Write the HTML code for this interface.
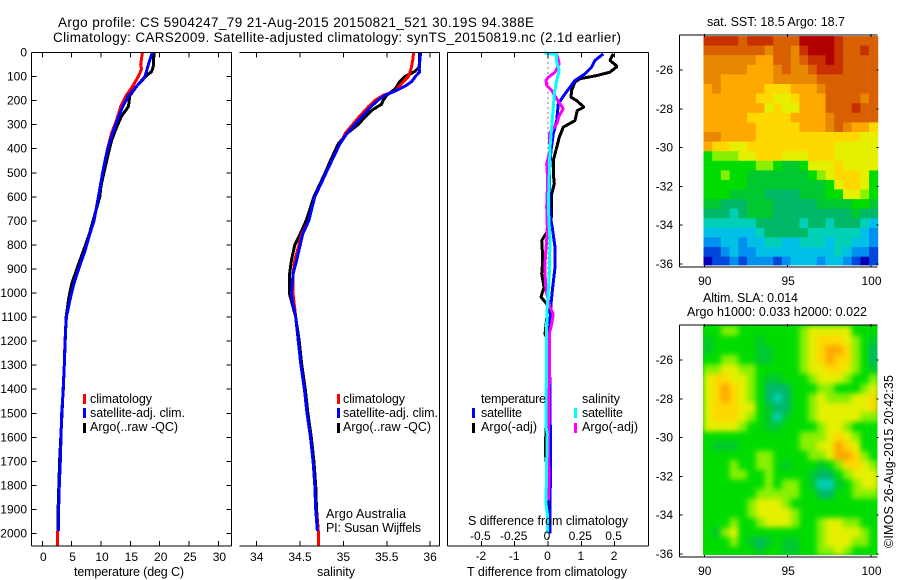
<!DOCTYPE html>
<html>
<head>
<meta charset="utf-8">
<title>Argo profile</title>
<style>
html,body{margin:0;padding:0;background:#fff;}
svg{display:block;}
text{font-family:"Liberation Sans",sans-serif;font-size:12.5px;fill:#000;}
text.tick{font-size:12px;}
text.title{font-size:13.5px;}
</style>
</head>
<body>
<svg id="chart" xmlns="http://www.w3.org/2000/svg" width="900" height="580" viewBox="0 0 900 580">
  <defs>
    <filter id="slaSmooth" x="-5%" y="-5%" width="110%" height="110%" color-interpolation-filters="sRGB">
      <feGaussianBlur stdDeviation="2.6"/>
    </filter>
    <clipPath id="slaClip"><rect x="703" y="325" width="174.5" height="230"/></clipPath>
  </defs>
  <text class="title" x="58" y="27" textLength="476">Argo profile: CS 5904247_79 21-Aug-2015 20150821_521 30.19S 94.388E</text>
  <text class="title" x="53" y="42" textLength="568">Climatology: CARS2009. Satellite-adjusted climatology: synTS_20150819.nc (2.1d earlier)</text>

  <g id="panelT"></g>
  <g id="panelS"></g>
  <g id="panelD"></g>
  <g id="mapSST"></g>
  <g id="mapSLA"></g>

  <text x="129" y="576" text-anchor="middle" textLength="110">temperature (deg C)</text>
  <text x="336" y="576" text-anchor="middle" textLength="38">salinity</text>
  <text x="547" y="576" text-anchor="middle" textLength="160">T difference from climatology</text>
  <text x="548" y="525" text-anchor="middle" textLength="160">S difference from climatology</text>

  <g>
    <rect x="83" y="394" width="3" height="10" fill="#ff0000"/>
    <rect x="83" y="408" width="3" height="10" fill="#0000ff"/>
    <rect x="83" y="423" width="3" height="10" fill="#000000"/>
    <text x="90" y="403" textLength="62">climatology</text>
    <text x="90" y="417" textLength="95">satellite-adj. clim.</text>
    <text x="90" y="431" textLength="88">Argo(..raw -QC)</text>
  </g>
  <g>
    <rect x="337" y="394" width="3" height="10" fill="#ff0000"/>
    <rect x="337" y="408" width="3" height="10" fill="#0000ff"/>
    <rect x="337" y="423" width="3" height="10" fill="#000000"/>
    <text x="343" y="403" textLength="62">climatology</text>
    <text x="343" y="417" textLength="95">satellite-adj. clim.</text>
    <text x="343" y="431" textLength="88">Argo(..raw -QC)</text>
  </g>
  <text x="326" y="518" textLength="80">Argo Australia</text>
  <text x="326" y="532" textLength="95">PI: Susan Wijffels</text>

  <g>
    <text x="481" y="403" textLength="65">temperature</text>
    <text x="582" y="403" textLength="38">salinity</text>
    <rect x="472" y="408" width="3" height="10" fill="#0000ff"/>
    <rect x="472" y="423" width="3" height="10" fill="#000000"/>
    <rect x="574" y="408" width="3" height="10" fill="#00ffff"/>
    <rect x="574" y="423" width="3" height="10" fill="#ff00ff"/>
    <text x="481" y="417" textLength="41">satellite</text>
    <text x="481" y="431" textLength="56">Argo(-adj)</text>
    <text x="582" y="417" textLength="41">satellite</text>
    <text x="582" y="431" textLength="56">Argo(-adj)</text>
  </g>

  <text x="707" y="26" textLength="138">sat. SST: 18.5 Argo: 18.7</text>
  <text x="703" y="302" textLength="95">Altim. SLA: 0.014</text>
  <text x="687" y="316" textLength="180">Argo h1000: 0.033 h2000: 0.022</text>
  <text transform="translate(893,548) rotate(-90)" textLength="173">©IMOS 26-Aug-2015 20:42:35</text>
</svg>

<script>
// ---------- shared depth axis ----------
const depthTicks = [0,100,200,300,400,500,600,700,800,900,1000,1100,1200,1300,1400,1500,1600,1700,1800,1900,2000];

// ---------- temperature profiles (deg C) ----------
const tempTicks = [0,5,10,15,20,25,30];
const climTDepth = [0,50,70,100,140,180,225,280,335,405,500,600,700,755,825,892,960,1015,1100,1200,1300,1400,1500,1600,1700,1800,1900,1988,1990,2050];
const climT = [17.05,16.76,16.9,16.36,15.4,14.26,13.35,12.67,11.8,11.08,10.28,9.55,8.8,8.1,7.27,6.3,5.4,4.83,4.1,3.87,3.75,3.58,3.3,3.18,3.07,2.9,2.78,2.73,2.56,2.56];
const satTDepth = [0,50,100,140,180,225,280,335,405,500,600,700,755,825,892,960,1015,1100,1200,1300,1400,1500,1600,1700,1800,1900,1990];
const satT = [18.75,18.07,17.5,16.08,14.66,13.7,12.8,12,11.08,10.28,9.55,8.8,8.1,7.27,6.3,5.4,4.83,4.1,3.87,3.75,3.58,3.3,3.18,3.07,2.9,2.78,2.73];
const argoTDepth = [0,60,80,95,140,180,225,265,310,365,405,500,555,600,755,825,892,960,1015,1100,1300,1500,1700,1900,1990];
const argoT = [19.03,18.9,18.6,17.8,16.08,14.9,14.66,13.5,12.67,11.8,11.4,10.5,10,9.8,8,7,6,5.05,4.55,4.05,3.75,3.35,2.95,2.7,2.7];

// ---------- salinity profiles (PSU) ----------
const salTicks = [34,34.5,35,35.5,36];
const salTickLabels = ['34','34.5','35','35.5','36'];
const climSDepth = [0,30,70,100,130,160,178,198,225,268,337,380,477,600,700,755,865,920,1005,1100,1200,1300,1400,1500,1600,1700,1800,1900,1990,2050];
const climS = [35.81,35.8,35.78,35.75,35.67,35.6,35.46,35.37,35.29,35.18,35.02,34.96,34.83,34.67,34.6,34.52,34.44,34.42,34.42,34.45,34.48,34.51,34.55,34.58,34.62,34.65,34.67,34.68,34.71,34.71];
const satSDepth = [0,40,60,80,100,120,140,160,178,198,225,268,337,380,477,600,700,755,865,920,1005,1030,1100,1200,1300,1400,1500,1600,1700,1800,1900,1990];
const satS = [35.89,35.88,35.87,35.88,35.83,35.79,35.71,35.6,35.48,35.4,35.32,35.21,35.04,34.96,34.83,34.67,34.6,34.53,34.46,34.42,34.4,34.41,34.45,34.48,34.51,34.55,34.58,34.62,34.65,34.67,34.68,34.7];
const argoSDepth = [0,60,80,100,120,150,178,198,215,240,268,300,337,380,450,500,600,700,755,800,865,920,1005,1100,1200,1300,1400,1500,1600,1700,1800,1900,1990];
const argoS = [35.88,35.88,35.82,35.71,35.65,35.6,35.5,35.46,35.44,35.33,35.25,35.17,35.04,34.94,34.85,34.79,34.66,34.57,34.5,34.44,34.4,34.38,34.38,34.45,34.49,34.52,34.56,34.59,34.63,34.66,34.68,34.69,34.71];

// ---------- difference profiles ----------
const diffTTicks = [-2,-1,0,1,2];
const diffSTicks = [-0.5,-0.25,0,0.25,0.5];
const diffSTickLabels = ['-0.5','-0.25','0','0.25','0.5'];
const satDiffTDepth = [6,33,61,89,116,172,213,283,338,407,504,601,671,740,809,893,976,1045,1170,1724,1862,2001];
const satDiffT = [1.66,1.41,1.31,1.11,.81,.51,.31,.26,.16,.09,.04,.04,.06,.14,.21,.21,.14,.09,.04,.08,.06,.06];
const argoDiffTDepth = [6,33,58,82,96,109,123,158,186,200,227,241,283,310,352,394,449,504,546,588,671,726,782,823,865,920,976,1017,1045,1059,1170,1190,1308,1650,1700,1724,2001];
const argoDiffT = [1.96,1.86,2.08,1.86,1.46,.96,.81,.71,.69,.86,1.08,.88,.81,.46,.34,.26,.16,.16,.19,.11,.11,.06,-.19,-.17,-.16,-.19,-.12,-.21,-.04,0,-.09,-.02,.01,-.08,-.06,.01,.04];
const argoDiffSDepth = [6,47,82,103,116,137,158,193,213,234,262,297,338,407,463,504,574,643,726,782,851,920,990,1059,1086,1128,1170,1364,1696,1752,1862];
const argoDiffS = [.065,.085,.0525,.0025,-.015,-.01,.0275,.065,.09,.115,.085,.065,.01,.015,-.01,-.005,-.005,-.01,-.005,-.01,-.02,-.0225,-.015,.015,.04,.0275,.01,.01,.0025,.01,.0025];
const satDiffSDepth = [2,8,40,75,116,172,227,310,394,504,643,782,920,1059,1128,1556,1585,1696,1876,1917,2001];
const satDiffS = [-.03,.065,.065,.085,.065,.0475,.04,.0275,.015,.01,.0025,.015,.01,-.005,-.01,-.015,-.005,-.01,-.015,-.005,-.005];

// ---------- map axes ----------
const lonTicks = [90,95,100];
const latTicks = [-26,-28,-30,-32,-34,-36];
const lonFirst = 89.95;
const lonStep = 0.523;
const latFirst = -24.25;
const latStep = -0.4945;

// colour class per map cell
const palette = ['#0000b8','#0048dc','#0090f0','#00c0e8','#00d0b8','#00b868','#00c830','#00dc00','#88f000','#e4f000','#ffd800','#ffa800','#e88800','#d86000','#c83000','#b00000'];

const sstGrid = [
[14,14,14,14,13,14,14,14,13,13,13,15,15,15,15,14,13,13,13,13],
[13,13,13,13,13,13,13,12,13,13,12,14,15,15,15,14,13,13,14,13],
[12,12,12,12,12,12,11,11,13,13,12,13,14,14,15,14,13,13,13,13],
[12,12,12,12,12,11,11,11,12,13,12,12,13,14,14,14,13,13,13,13],
[12,12,11,11,11,11,11,11,12,12,12,12,12,13,13,13,13,13,13,13],
[11,12,11,11,11,11,11,10,10,10,11,11,11,12,13,13,13,13,13,13],
[11,11,11,11,11,11,10,10,9,9,10,11,11,11,13,13,13,13,12,13],
[11,11,11,11,11,11,11,9,10,9,9,11,11,11,13,13,13,14,13,13],
[11,11,11,11,11,10,10,10,10,10,11,11,11,11,12,13,13,13,13,13],
[11,11,11,11,11,11,10,10,10,10,10,11,11,11,12,13,12,11,11,10],
[12,12,11,11,11,11,10,10,10,10,10,10,10,10,10,10,10,10,9,9],
[11,10,10,9,9,10,10,10,10,10,10,10,10,10,10,9,9,9,9,9],
[7,8,8,8,9,9,10,10,10,9,9,9,10,10,10,9,9,9,9,9],
[7,7,7,7,7,7,8,8,7,6,6,7,9,9,9,10,9,9,9,9],
[7,7,8,7,7,6,6,6,6,6,6,6,7,8,9,10,10,10,9,7],
[7,7,7,7,7,6,6,6,6,6,6,6,6,6,7,9,10,10,9,7],
[7,7,7,6,6,6,6,5,5,5,5,6,6,6,7,7,9,9,8,7],
[6,6,5,5,5,6,6,6,5,5,5,5,5,6,6,6,6,7,7,6],
[5,5,5,4,5,6,6,6,5,5,5,5,5,5,5,5,5,6,5,5],
[4,4,4,4,4,4,5,5,5,5,5,4,5,5,4,5,5,5,4,3],
[3,3,3,3,3,3,4,5,5,5,5,5,4,4,4,4,4,4,3,2],
[2,2,3,3,2,3,3,4,4,3,3,4,4,4,3,4,4,3,3,2],
[1,1,2,3,2,2,3,3,3,3,3,3,3,3,3,4,3,2,2,1],
[0,1,1,2,1,2,2,2,1,2,3,3,3,2,3,3,2,1,0,1]
];

const slaGrid = [
[7,7,8,8,7,7,7,7,7,7,7,8,9,9,9,9,9,7,7,7],
[6,7,7,7,7,7,6,7,7,7,7,8,9,10,10,10,9,8,7,6],
[6,7,7,7,7,7,6,6,7,7,7,8,9,10,11,11,10,8,7,5],
[7,7,8,8,7,7,6,6,7,7,7,8,9,10,11,10,10,8,7,5],
[8,8,9,9,8,8,7,7,7,7,7,8,9,9,10,10,9,8,7,6],
[9,10,10,9,9,8,7,6,6,7,7,7,8,9,9,9,8,7,7,8],
[9,10,11,10,9,8,7,5,5,5,7,7,7,8,8,7,7,7,8,9],
[9,10,11,10,9,8,7,5,4,5,7,7,8,9,8,8,8,9,9,10],
[9,10,10,10,9,9,7,6,5,5,7,7,8,9,9,9,9,9,9,10],
[9,10,10,10,9,8,7,6,4,6,7,7,8,9,9,9,9,9,8,8],
[9,9,9,9,8,7,7,6,6,7,7,7,7,8,9,9,8,7,7,7],
[7,7,7,7,7,7,7,7,7,7,7,8,8,8,9,10,9,8,7,7],
[7,6,6,6,7,7,7,7,7,7,7,8,8,9,9,11,10,9,7,7],
[7,7,7,7,7,7,8,8,7,7,7,7,8,8,9,11,11,10,8,7],
[7,7,7,8,7,7,8,8,7,6,7,7,7,6,7,8,10,10,9,8],
[7,7,7,8,8,7,7,8,7,7,7,7,6,5,5,7,8,9,9,9],
[7,7,7,7,7,7,7,8,7,8,8,7,6,4,4,6,7,8,9,9],
[7,7,7,7,7,7,8,8,8,8,8,7,7,5,5,7,7,8,8,8],
[7,7,7,7,7,8,9,9,9,8,7,7,7,7,7,7,7,7,7,7],
[7,7,7,7,7,8,9,9,9,9,8,7,7,7,7,7,7,7,7,7],
[7,7,7,8,7,7,8,9,9,9,8,7,7,8,9,9,8,8,7,7],
[7,6,8,9,7,7,7,7,7,7,7,7,7,8,9,9,9,9,8,7],
[7,7,7,8,7,6,5,6,7,6,6,7,7,8,9,9,9,8,8,7],
[7,7,7,7,7,7,6,7,7,6,6,7,7,8,8,9,8,7,7,7]
];

// ---------- axis functions ----------
const SVGNS = 'http://www.w3.org/2000/svg';
const yDepth = d => 52.5 + d * 0.2405;
const xTemp = t => 42.3 + t * 5.87;
const xSal = s => 256.7 + (s - 34) * 86.7;
const xDiffT = v => 548 + v * 33.3;
const xDiffS = v => 548 + v * 133.2;
const xLon = lon => 704.3 + (lon - 90) * 16.67;
const ySST = lat => 70 + (-26 - lat) * 19.4;
const ySLA = lat => 360 + (-26 - lat) * 19.4;

function make(parent, tag, attrs) {
  const el = document.createElementNS(SVGNS, tag);
  for (const k in attrs) el.setAttribute(k, attrs[k]);
  parent.appendChild(el);
  return el;
}
function hairline(parent, x1, y1, x2, y2, name) {
  const el = make(parent, 'line', {x1:x1, y1:y1, x2:x2, y2:y2, stroke:'#000', 'stroke-width':1, 'shape-rendering':'crispEdges'});
  
  
  return el;
}
function label(parent, x, y, str, anchor, name) {
  const el = make(parent, 'text', {x:x, y:y, 'text-anchor':anchor, 'class':'tick'});
  el.textContent = str;
  
  
  return el;
}
function profile(parent, xFn, depths, vals, color, width, name) {
  const pts = depths.map((d, i) => xFn(vals[i]).toFixed(1) + ',' + yDepth(d).toFixed(1)).join(' ');
  const el = make(parent, 'polyline', {points:pts, fill:'none', stroke:color, 'stroke-width':width, 'shape-rendering':'crispEdges', 'stroke-linejoin':'bevel'});
  
  
  return el;
}

const TOP = 52.5, BOT = 546;

// ---------- temperature panel ----------
const pT = document.getElementById('panelT');
profile(pT, xTemp, argoTDepth, argoT, '#000000', 3, 'argo-temperature-line');
profile(pT, xTemp, climTDepth, climT, '#ff0000', 3, 'climatology-temperature-line');
profile(pT, xTemp, satTDepth, satT, '#0000ff', 3, 'satellite-temperature-line');
hairline(pT, 31.5, TOP, 231.5, TOP, 'temperature-top-axis');
hairline(pT, 31.5, BOT, 231.5, BOT, 'temperature-bottom-axis');
hairline(pT, 31.5, TOP, 31.5, BOT, 'temperature-left-axis');
hairline(pT, 231.5, TOP, 231.5, BOT, 'temperature-right-axis');
depthTicks.forEach(d => {
  hairline(pT, 31.5, yDepth(d), 36.5, yDepth(d), 'depth-tick');
  hairline(pT, 226.5, yDepth(d), 231.5, yDepth(d), 'depth-tick');
  label(pT, 27, yDepth(d) + 4, String(d), 'end', 'depth-tick-label');
});
tempTicks.forEach(t => {
  hairline(pT, xTemp(t), TOP, xTemp(t), TOP + 5, 'temperature-tick');
  hairline(pT, xTemp(t), BOT, xTemp(t), BOT - 5, 'temperature-tick');
  label(pT, xTemp(t) + 1, 561, String(t), 'middle', 'temperature-tick-label');
});

// ---------- salinity panel ----------
const pS = document.getElementById('panelS');
profile(pS, xSal, argoSDepth, argoS, '#000000', 3, 'argo-salinity-line');
profile(pS, xSal, climSDepth, climS, '#ff0000', 3, 'climatology-salinity-line');
profile(pS, xSal, satSDepth, satS, '#0000ff', 3, 'satellite-salinity-line');
hairline(pS, 239.5, TOP, 439.5, TOP, 'salinity-top-axis');
hairline(pS, 239.5, BOT, 439.5, BOT, 'salinity-bottom-axis');
hairline(pS, 439.5, TOP, 439.5, BOT, 'salinity-right-axis');
salTicks.forEach((s, i) => {
  hairline(pS, xSal(s), TOP, xSal(s), TOP + 5, 'salinity-tick');
  hairline(pS, xSal(s), BOT, xSal(s), BOT - 5, 'salinity-tick');
  label(pS, xSal(s), 561, salTickLabels[i], 'middle', 'salinity-tick-label');
});

// ---------- difference panel ----------
const pD = document.getElementById('panelD');
const zero = make(pD, 'line', {x1:xDiffT(0), y1:TOP, x2:xDiffT(0), y2:BOT, stroke:'#000', 'stroke-width':1, 'stroke-dasharray':'1 4'});


profile(pD, xDiffT, argoDiffTDepth, argoDiffT, '#000000', 3, 'argo-temperature-difference-line');
profile(pD, xDiffT, satDiffTDepth, satDiffT, '#0000ff', 3, 'satellite-temperature-difference-line');
profile(pD, xDiffS, argoDiffSDepth, argoDiffS, '#ff00ff', 3, 'argo-salinity-difference-line');
profile(pD, xDiffS, satDiffSDepth, satDiffS, '#00ffff', 3, 'satellite-salinity-difference-line');
hairline(pD, 447.5, TOP, 648.5, TOP, 'difference-top-axis');
hairline(pD, 447.5, BOT, 648.5, BOT, 'difference-bottom-axis');
hairline(pD, 447.5, TOP, 447.5, BOT, 'difference-left-axis');
hairline(pD, 648.5, TOP, 648.5, BOT, 'difference-right-axis');
diffTTicks.forEach(v => {
  hairline(pD, xDiffT(v), TOP, xDiffT(v), TOP + 5, 'temperature-difference-tick');
  hairline(pD, xDiffT(v), BOT, xDiffT(v), BOT - 5, 'temperature-difference-tick');
  label(pD, xDiffT(v) - 0.5, 560, String(v), 'middle', 'temperature-difference-tick-label');
});
diffSTicks.forEach((v, i) => {
  label(pD, xDiffS(v) - 1, 540, diffSTickLabels[i], 'middle', 'salinity-difference-tick-label');
});

// ---------- maps ----------
function drawMap(g, grid, yFn, boxTop, boxBot, prefix, smooth) {
  let holder = g;
  if (smooth) {
    const clipG = make(g, 'g', {'clip-path':'url(#slaClip)'});
    
    
    const base = make(clipG, 'rect', {x:703, y:boxTop, width:175, height:boxBot - boxTop, fill:palette[7]});
    
    
    holder = make(clipG, 'g', {filter:'url(#slaSmooth)'});
    
    
  }
  grid.forEach((row, r) => {
    row.forEach((cls, c) => {
      const lon = lonFirst + c * lonStep;
      const lat = latFirst + r * latStep;
      const x0 = xLon(lon), x1 = xLon(lon + lonStep);
      const y0 = Math.max(yFn(lat), boxTop), y1 = Math.min(yFn(lat + latStep), boxBot);
      const cell = make(holder, 'rect', {x:x0.toFixed(1), y:y0.toFixed(1), width:(x1 - x0 + 0.4).toFixed(1), height:(y1 - y0 + 0.4).toFixed(1), fill:palette[cls]});
      
      
    });
  });
  const L = 679.5, R = 877.5;
  hairline(g, L, boxTop, R, boxTop, prefix + '-top-axis');
  hairline(g, L, boxBot + 2, R, boxBot + 2, prefix + '-bottom-axis');
  hairline(g, L, boxTop, L, boxBot + 2, prefix + '-left-axis');
  latTicks.forEach(lat => {
    hairline(g, L, yFn(lat), L + 3, yFn(lat), prefix + '-lat-tick');
    hairline(g, R - 1, yFn(lat), R + 1, yFn(lat), prefix + '-lat-tick');
    label(g, 673, yFn(lat) + 4, String(lat), 'end', prefix + '-lat-label');
  });
  lonTicks.forEach(lon => {
    hairline(g, xLon(lon), boxTop - 1, xLon(lon), boxTop + 2, prefix + '-lon-tick');
    hairline(g, xLon(lon), boxBot, xLon(lon), boxBot + 2, prefix + '-lon-tick');
    label(g, xLon(lon) + 0.5, boxBot + 20, String(lon), 'middle', prefix + '-lon-label');
  });
}
drawMap(document.getElementById('mapSST'), sstGrid, ySST, 35, 265, 'sst-map', false);
drawMap(document.getElementById('mapSLA'), slaGrid, ySLA, 325, 555, 'sla-map', true);
</script>
</body>
</html>
